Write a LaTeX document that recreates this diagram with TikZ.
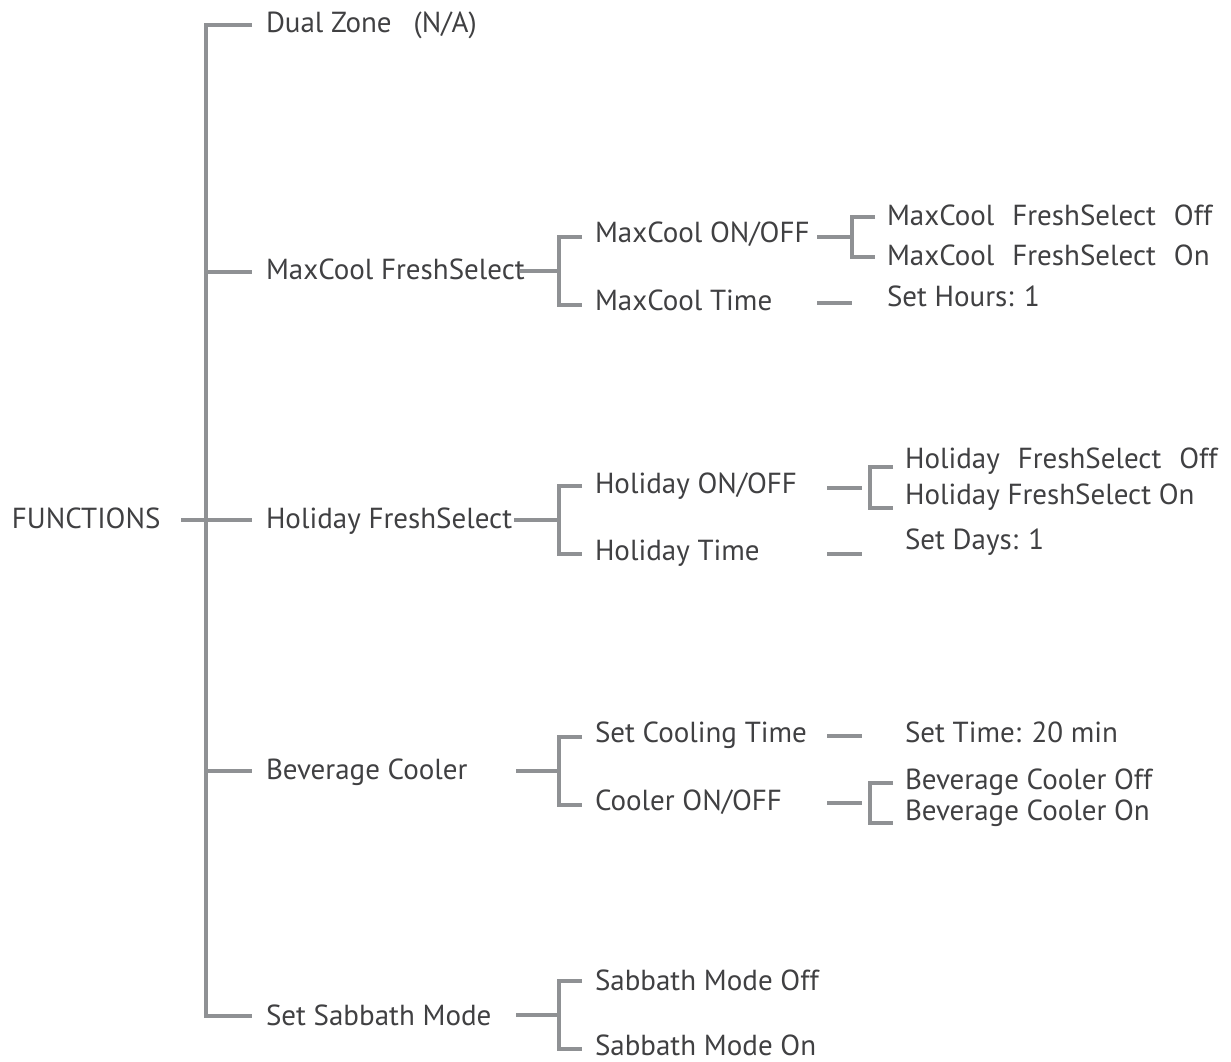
\documentclass[tikz,border=0pt]{standalone}
\usepackage{fontspec}
\setmainfont{PT Sans}
\definecolor{linegray}{HTML}{8F9194}
\definecolor{textgray}{HTML}{404042}
\tikzset{
  lbl/.style={anchor=base west, inner sep=0pt, outer sep=0pt, text=textgray, font=\fontsize{29}{31}\selectfont},
  conn/.style={draw=linegray, line width=3.4pt},
}
\newcommand{\gp}{\hspace{18pt}}
\begin{document}
\begin{tikzpicture}[x=1pt,y=-1pt]
\useasboundingbox (0,0) rectangle (1231,1061);
% level 0
\node[lbl] (fn) at (12,528) {FUNCTIONS};
% level 1
\node[lbl] (dual) at (266,32) {Dual Zone\hspace{22pt}(N/A)};
\node[lbl] (mcfs) at (266,279) {MaxCool FreshSelect};
\node[lbl] (hofs) at (266,528) {Holiday FreshSelect};
\node[lbl] (bev) at (266,779) {Beverage Cooler};
\node[lbl] (sab) at (266,1025) {Set Sabbath Mode};
% level 2
\node[lbl] (mcon) at (595,242) {MaxCool ON/OFF};
\node[lbl] (mctime) at (595,310) {MaxCool Time};
\node[lbl] (hoon) at (595,493) {Holiday ON/OFF};
\node[lbl] (hotime) at (595,560) {Holiday Time};
\node[lbl] (cooltime) at (595,742) {Set Cooling Time};
\node[lbl] (coolon) at (595,810) {Cooler ON/OFF};
\node[lbl] (saboff) at (595,990) {Sabbath Mode Off};
\node[lbl] (sabon) at (595,1055) {Sabbath Mode On};
% level 3
\node[lbl] (mcoff3) at (887,225) {MaxCool\gp FreshSelect\gp Off};
\node[lbl] (mcon3) at (887,265) {MaxCool\gp FreshSelect\gp On};
\node[lbl] (hours) at (887,306) {Set Hours: 1};
\node[lbl] (hooff3) at (905,468) {Holiday\gp FreshSelect\gp Off};
\node[lbl] (hoon3) at (905,504) {Holiday FreshSelect On};
\node[lbl] (days) at (905,549) {Set Days: 1};
\node[lbl] (settime) at (905,742) {Set Time: 20 min};
\node[lbl] (bevoff) at (905,789) {Beverage Cooler Off};
\node[lbl] (bevon) at (905,820) {Beverage Cooler On};
% trunk coordinates
\coordinate (tA) at (206,25);
\coordinate (tE) at (206,1016);
\coordinate (tB) at (206,272);
\coordinate (tC) at (206,520);
\coordinate (tD) at (206,771);
\coordinate (fnR) at (181,520);
\coordinate (dualL) at (252,25);
\coordinate (mcfsL) at (252,272);
\coordinate (hofsL) at (252,520);
\coordinate (bevL) at (252,771);
\coordinate (sabL) at (252,1016);
\draw[conn] (dualL) -- (tA) -- (tE) -- (sabL);
\draw[conn] (fnR) -- (tC) -- (hofsL);
\draw[conn] (tB) -- (mcfsL);
\draw[conn] (tD) -- (bevL);
% level-2 brackets
\foreach \nm/\c/\xs in {mc/271/520, ho/520/514, bv/771/516, sb/1015/516}{
  \coordinate (\nm s) at (\xs,\c);
  \coordinate (\nm m) at (559,\c);
  \coordinate (\nm t) at (559,\c-34);
  \coordinate (\nm b) at (559,\c+34);
  \coordinate (\nm tr) at (582,\c-34);
  \coordinate (\nm br) at (582,\c+34);
  \draw[conn] (\nm s) -- (\nm m);
  \draw[conn] (\nm tr) -- (\nm t) -- (\nm b) -- (\nm br);
}
% level-3 connectors
\coordinate (a1) at (817,237); \coordinate (a2) at (852,237);
\coordinate (a3) at (852,217); \coordinate (a4) at (852,257);
\coordinate (a5) at (875,217); \coordinate (a6) at (875,257);
\draw[conn] (a1) -- (a2);
\draw[conn] (a5) -- (a3) -- (a4) -- (a6);
\coordinate (b1) at (817,303); \coordinate (b2) at (852,303);
\draw[conn] (b1) -- (b2);
\coordinate (c1) at (827,488); \coordinate (c2) at (862,488);
\coordinate (c3) at (870,467); \coordinate (c4) at (870,508);
\coordinate (c5) at (893,467); \coordinate (c6) at (893,508);
\draw[conn] (c1) -- (c2);
\draw[conn] (c5) -- (c3) -- (c4) -- (c6);
\coordinate (d1) at (827,554); \coordinate (d2) at (862,554);
\draw[conn] (d1) -- (d2);
\coordinate (e1) at (827,736); \coordinate (e2) at (862,736);
\draw[conn] (e1) -- (e2);
\coordinate (f1) at (827,803); \coordinate (f2) at (862,803);
\coordinate (f3) at (870,783); \coordinate (f4) at (870,823);
\coordinate (f5) at (893,783); \coordinate (f6) at (893,823);
\draw[conn] (f1) -- (f2);
\draw[conn] (f5) -- (f3) -- (f4) -- (f6);
\end{tikzpicture}
\end{document}
